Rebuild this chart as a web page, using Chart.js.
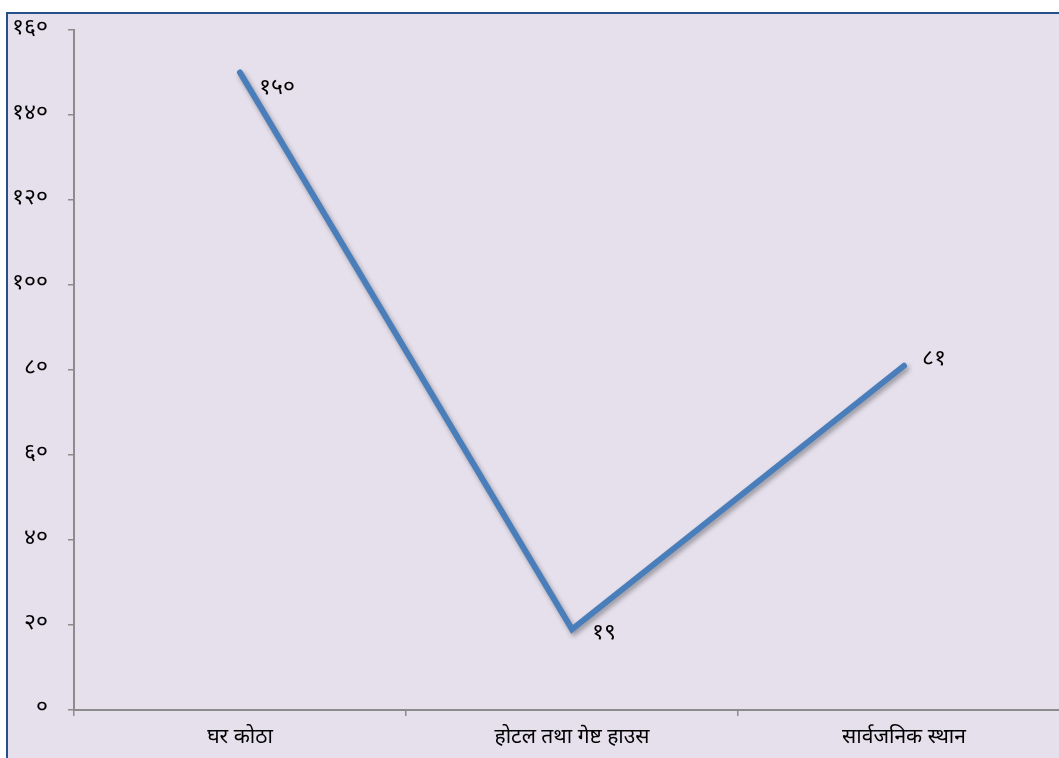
<!DOCTYPE html>
<html><head><meta charset="utf-8">
<script src="https://cdn.jsdelivr.net/npm/chart.js@4/dist/chart.umd.min.js"></script>
<style>
html,body{margin:0;padding:0;background:#fff;overflow:hidden;width:1059px;height:758px;}
#frame{position:absolute;left:6px;top:12px;width:1200px;height:900px;background:#E5E0EC;border:2px solid #25508A;}
#wrap{position:absolute;left:0;top:0;width:1100px;height:758px;}
</style></head>
<body>
<div id="frame"></div>
<div id="wrap"><canvas id="c" width="1100" height="758"></canvas></div>
<script>
const categories = ['घर कोठा', 'होटल तथा गेष्ट हाउस', 'सार्वजनिक स्थान'];
const values = [150, 19, 81];
const yTicks = [0, 20, 40, 60, 80, 100, 120, 140, 160];

const devDigits = ['०','१','२','३','४','५','६','७','८','९'];
function toDev(n){ return String(n).split('').map(d => devDigits[+d] ?? d).join(''); }

const DEVFONT = "'Noto Sans Devanagari','Lohit Devanagari','Mangal','Noto Sans','DejaVu Sans',sans-serif";

const shadowPlugin = {
  id: 'lineShadow',
  beforeDatasetDraw(chart){
    const ctx = chart.ctx; ctx.save();
    ctx.shadowColor = 'rgba(0,0,0,0.35)';
    ctx.shadowBlur = 5; ctx.shadowOffsetX = 2; ctx.shadowOffsetY = 3;
  },
  afterDatasetDraw(chart){ chart.ctx.restore(); }
};

const labelPlugin = {
  id: 'valueLabels',
  afterDatasetsDraw(chart, args, opts){
    const ctx = chart.ctx;
    const meta = chart.getDatasetMeta(0);
    ctx.save();
    ctx.fillStyle = '#000';
    ctx.font = '23px ' + DEVFONT;
    ctx.textAlign = 'left';
    ctx.textBaseline = 'middle';
    meta.data.forEach((pt, i) => {
      const off = opts.offsets[i] || [20, 0];
      ctx.fillText(toDev(chart.data.datasets[0].data[i]), pt.x + off[0], pt.y + off[1]);
    });
    ctx.restore();
  }
};

new Chart(document.getElementById('c'), {
  type: 'line',
  data: {
    labels: categories,
    datasets: [{
      data: values,
      borderColor: '#4A7EBB',
      borderWidth: 6,
      borderCapStyle: 'round',
      borderJoinStyle: 'miter',
      pointRadius: 0,
      pointHoverRadius: 0,
      tension: 0,
      fill: false
    }]
  },
  options: {
    responsive: false,
    animation: false,
    events: [],
    layout: { padding: { left: 0, top: 30, right: 30, bottom: 0 } },
    plugins: {
      legend: { display: false },
      tooltip: { enabled: false },
      valueLabels: { offsets: [[19, 17], [20, 5], [18, -5]] }
    },
    scales: {
      x: {
        offset: true,
        grid: { display: true, offset: true, drawOnChartArea: false, drawTicks: true, tickLength: 6, color: '#8C8C8C', lineWidth: 1.5 },
        border: { display: true, color: '#8C8C8C', width: 2 },
        ticks: { color: '#000', font: { size: 21, family: DEVFONT }, padding: 10, maxRotation: 0 },
        afterFit(s){ s.height = 48; s.paddingLeft = 0; s.paddingRight = 0; }
      },
      y: {
        min: 0, max: 160,
        afterBuildTicks(s){ s.ticks = yTicks.map(v => ({ value: v })); },
        grid: { display: true, drawOnChartArea: false, drawTicks: true, tickLength: 6, color: '#8C8C8C', lineWidth: 1.5 },
        border: { display: true, color: '#8C8C8C', width: 2 },
        ticks: { color: '#000', font: { size: 23, family: DEVFONT }, padding: 20, callback: v => toDev(v) },
        afterFit(s){ s.width = 74; s.paddingTop = 0; s.paddingBottom = 0; }
      }
    }
  },
  plugins: [shadowPlugin, labelPlugin]
});
</script>
</body></html>
